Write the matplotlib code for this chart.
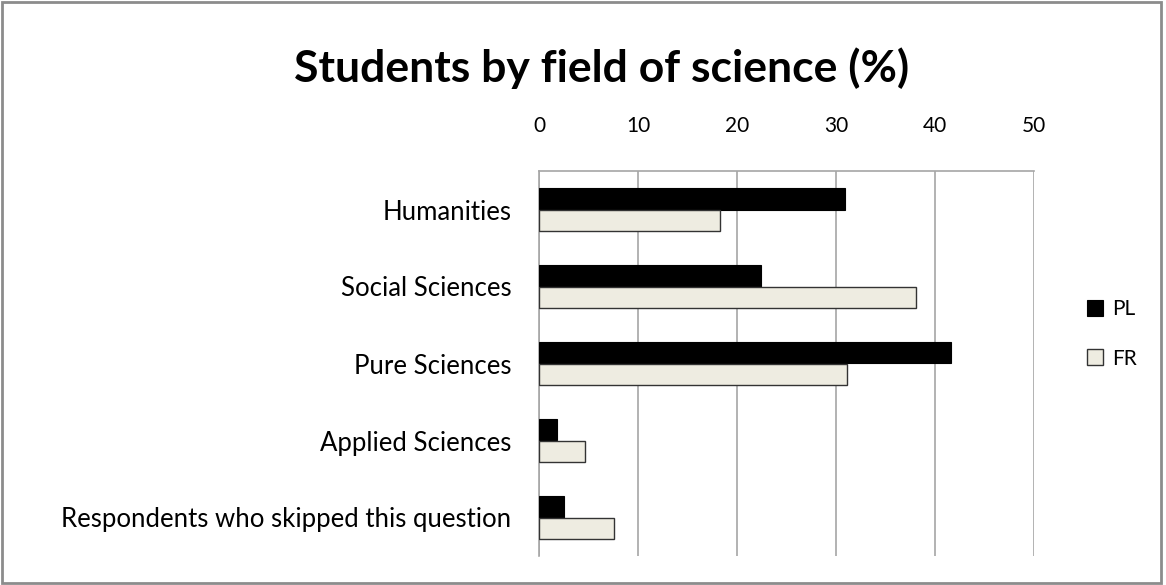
import numpy as np
import matplotlib.pyplot as plt
from matplotlib.patches import Rectangle

categories = ['Humanities', 'Social Sciences', 'Pure Sciences', 'Applied Sciences',
              'Respondents who skipped this question']
pl_values = [30.9, 22.4, 41.6, 1.8, 2.5]
fr_values = [18.3, 38.1, 31.1, 4.6, 7.6]
x_ticks = [0, 10, 20, 30, 40, 50]

plt.rcParams['font.family'] = ['Lato', 'DejaVu Sans']

fig = plt.figure(figsize=(11.66, 5.85), dpi=100)
ax = fig.add_axes([539 / 1166, 1 - 556 / 585, 495 / 1166, 385 / 585])

y = np.arange(len(categories))
h = 0.285
ax.barh(y - h / 2, pl_values, height=h, color='black', edgecolor='black',
        linewidth=0.8, label='PL', zorder=3)
ax.barh(y + h / 2, fr_values, height=h, color='#EEECE1', edgecolor='#333333',
        linewidth=1.0, label='FR', zorder=3)

ax.set_ylim(len(categories) - 0.5, -0.5)
ax.set_xlim(0, 50)
ax.set_yticks(y)
ax.set_yticklabels(categories, fontsize=18.5)
ax.set_xticks(x_ticks)
ax.set_xticklabels([str(t) for t in x_ticks], fontsize=15)
ax.xaxis.tick_top()
ax.tick_params(axis='x', length=0, pad=25)
ax.tick_params(axis='y', length=0, pad=20)
ax.grid(axis='x', color='#A6A6A6', linewidth=1.2, zorder=0)
for s in ['bottom', 'right']:
    ax.spines[s].set_visible(False)
ax.spines['top'].set_color('#A6A6A6')
ax.spines['left'].set_color('#A6A6A6')
ax.spines['top'].set_linewidth(1.2)
ax.spines['left'].set_linewidth(1.2)

fig.text(602 / 1166, 1 - 68 / 585, 'Students by field of science (%)',
         ha='center', va='center', fontsize=32, fontweight='bold')

leg = fig.legend(loc='center left', bbox_to_anchor=(1068 / 1166, 1 - 334 / 585),
                 frameon=False, fontsize=15, handlelength=0.8, handleheight=0.8,
                 handletextpad=0.4, labelspacing=1.4)

fig.patches.append(Rectangle((0.002, 0.003), 0.994, 0.994, transform=fig.transFigure,
                             fill=False, edgecolor='#8C8C8C', linewidth=2))

fig.savefig('out.png', dpi=100)
